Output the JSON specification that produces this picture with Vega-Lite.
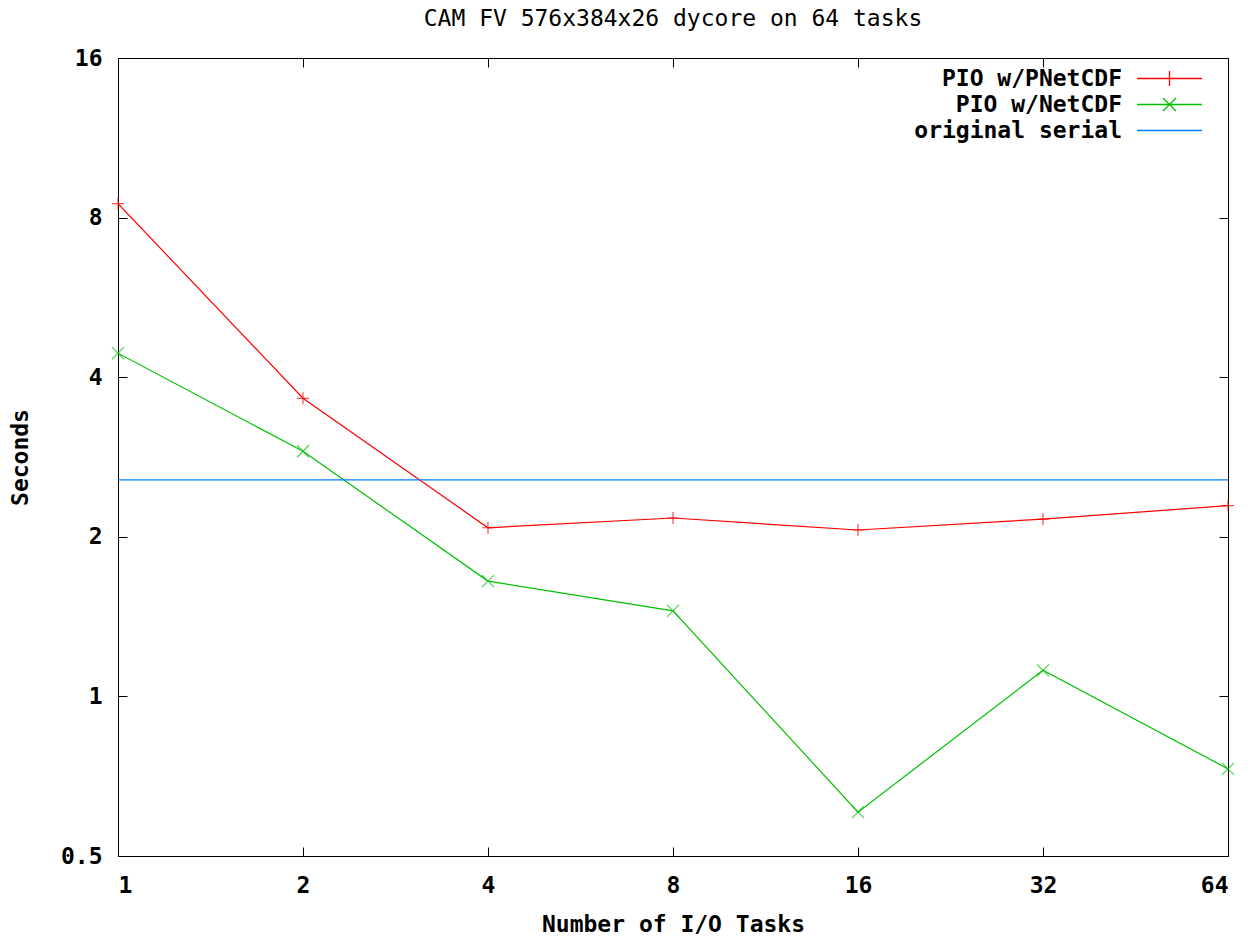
{
  "$schema": "https://vega.github.io/schema/vega-lite/v6.json",
  "width": 1110,
  "height": 798,
  "autosize": {"type": "none"},
  "padding": {"left": 118, "top": 58, "right": 27, "bottom": 81},
  "background": "white",
  "title": {"text": "CAM FV 576x384x26 dycore on 64 tasks", "font": "DejaVu Sans Mono", "fontSize": 23, "fontWeight": "normal", "color": "black", "offset": 16, "anchor": "middle"},
  "config": {
    "view": {"stroke": "black", "strokeWidth": 1},
    "axis": {"grid": false, "domainColor": "black", "domainWidth": 1, "tickColor": "black", "tickWidth": 1, "tickSize": -9, "labelFont": "DejaVu Sans Mono", "labelFontSize": 23, "labelFontWeight": "bold", "labelColor": "black", "titleFont": "DejaVu Sans Mono", "titleFontSize": 23, "titleFontWeight": "bold", "titleColor": "black"},
    "legend": {"orient": "none", "legendX": 1040, "legendY": 9, "symbolSize": 400, "symbolStrokeWidth": 1.3, "symbolOpacity": 1, "labelAlign": "right", "labelOffset": -59, "labelFont": "DejaVu Sans Mono", "labelFontSize": 23, "labelFontWeight": "bold", "labelColor": "black", "labelLimit": 500, "rowPadding": 2}
  },
  "data": {"values": [
    {"series": "PIO w/PNetCDF", "tasks": 1, "seconds": 8.5},
    {"series": "PIO w/PNetCDF", "tasks": 2, "seconds": 3.65},
    {"series": "PIO w/PNetCDF", "tasks": 4, "seconds": 2.08},
    {"series": "PIO w/PNetCDF", "tasks": 8, "seconds": 2.17},
    {"series": "PIO w/PNetCDF", "tasks": 16, "seconds": 2.06},
    {"series": "PIO w/PNetCDF", "tasks": 32, "seconds": 2.16},
    {"series": "PIO w/PNetCDF", "tasks": 64, "seconds": 2.29},
    {"series": "PIO w/NetCDF", "tasks": 1, "seconds": 4.44},
    {"series": "PIO w/NetCDF", "tasks": 2, "seconds": 2.9},
    {"series": "PIO w/NetCDF", "tasks": 4, "seconds": 1.65},
    {"series": "PIO w/NetCDF", "tasks": 8, "seconds": 1.45},
    {"series": "PIO w/NetCDF", "tasks": 16, "seconds": 0.605},
    {"series": "PIO w/NetCDF", "tasks": 32, "seconds": 1.12},
    {"series": "PIO w/NetCDF", "tasks": 64, "seconds": 0.73},
    {"series": "original serial", "tasks": 1, "seconds": 2.56},
    {"series": "original serial", "tasks": 64, "seconds": 2.56}
  ]},
  "layer": [
    {
      "mark": {"type": "line", "strokeWidth": 1.2, "clip": true},
      "encoding": {
        "x": {"field": "tasks", "type": "quantitative", "scale": {"type": "log", "base": 2, "domain": [1, 64], "nice": false}, "axis": {"orient": "bottom", "values": [1, 2, 4, 8, 16, 32, 64], "format": "~g", "labelPadding": 27, "title": "Number of I/O Tasks", "titlePadding": 16}},
        "y": {"field": "seconds", "type": "quantitative", "scale": {"type": "log", "base": 2, "domain": [0.5, 16], "nice": false}, "axis": {"orient": "left", "values": [0.5, 1, 2, 4, 8, 16], "format": "~g", "labelPadding": 25, "title": "Seconds", "titlePadding": 28}},
        "color": {"field": "series", "type": "nominal", "title": null, "scale": {"domain": ["PIO w/PNetCDF", "PIO w/NetCDF", "original serial"], "range": ["#ff0000", "#00c000", "#0080ff"]}}
      }
    },
    {
      "transform": [{"filter": "datum.series === 'PIO w/PNetCDF'"}],
      "mark": {"type": "point", "filled": false, "strokeWidth": 1.2, "size": 144, "shape": "M-1,0L1,0M0,-1L0,1", "clip": false},
      "encoding": {
        "x": {"field": "tasks", "type": "quantitative", "axis": {"orient": "top", "values": [1, 2, 4, 8, 16, 32, 64], "labels": false, "title": null}},
        "y": {"field": "seconds", "type": "quantitative", "axis": {"orient": "right", "values": [0.5, 1, 2, 4, 8, 16], "labels": false, "title": null}},
        "color": {"field": "series", "type": "nominal", "title": null}
      }
    },
    {
      "transform": [{"filter": "datum.series === 'PIO w/NetCDF'"}],
      "mark": {"type": "point", "filled": false, "strokeWidth": 1.2, "size": 144, "shape": "M-1,-1L1,1M-1,1L1,-1", "clip": false},
      "encoding": {
        "x": {"field": "tasks", "type": "quantitative", "axis": null},
        "y": {"field": "seconds", "type": "quantitative", "axis": null},
        "color": {"field": "series", "type": "nominal", "title": null}
      }
    },
    {
      "mark": {"type": "point", "filled": false, "opacity": 0},
      "encoding": {
        "x": {"field": "tasks", "type": "quantitative", "axis": null},
        "y": {"field": "seconds", "type": "quantitative", "axis": null},
        "color": {"field": "series", "type": "nominal", "title": null},
        "shape": {"field": "series", "type": "nominal", "title": null, "scale": {"domain": ["PIO w/PNetCDF", "PIO w/NetCDF", "original serial"], "range": ["M-3.25,0L3.25,0M0,-0.75L0,0.75", "M-3.25,0L3.25,0M-0.65,-0.65L0.65,0.65M-0.65,0.65L0.65,-0.65", "M-3.25,0L3.25,0"]}}
      }
    }
  ],
  "resolve": {"axis": {"x": "independent", "y": "independent"}}
}
